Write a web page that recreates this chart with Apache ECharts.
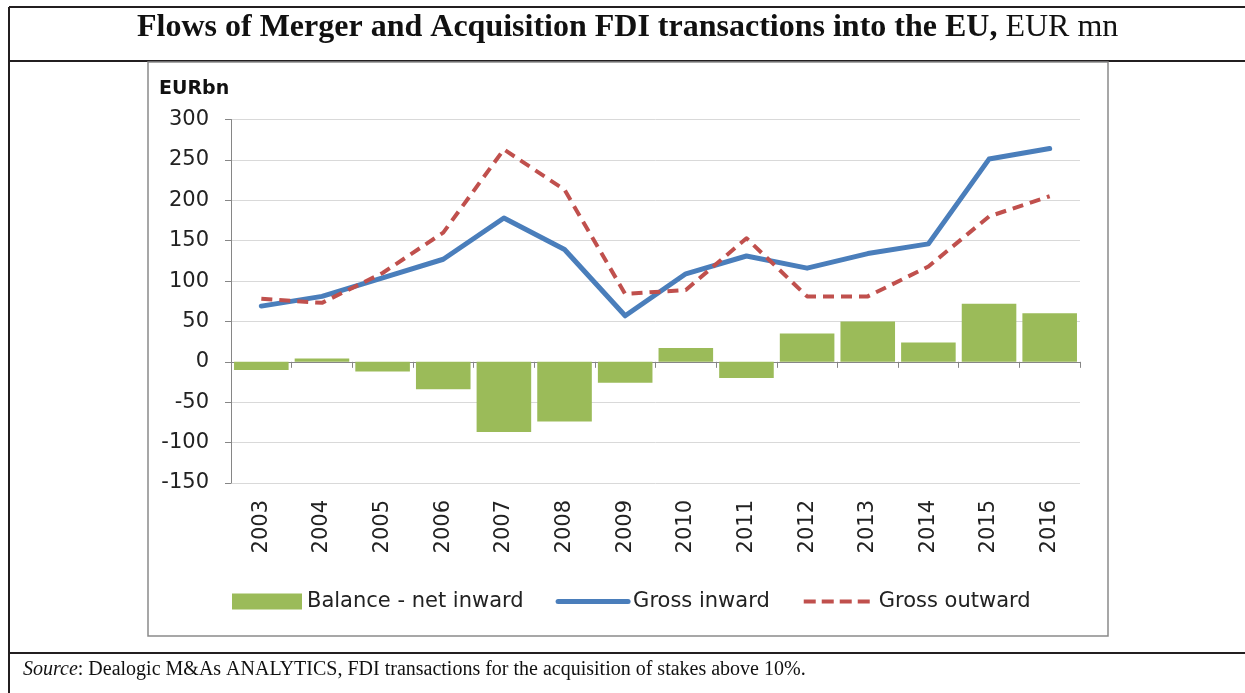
<!DOCTYPE html>
<html>
<head>
<meta charset="utf-8">
<script src="https://cdn.jsdelivr.net/npm/echarts@6/dist/echarts.min.js"></script>
<style>
html,body{margin:0;padding:0;background:#fff;}
#c{width:1245px;height:693px;}
</style>
</head>
<body>
<div id="c"></div>
<script>
const years = ['2003','2004','2005','2006','2007','2008','2009','2010','2011','2012','2013','2014','2015','2016'];
const balance = [-10, 4, -12, -34, -87, -74, -26, 17, -20, 35, 50, 24, 72, 60];
const grossInward = [69, 81, 104, 127, 178, 139, 57, 109, 131, 116, 134, 146, 251, 264];
const grossOutward = [78, 73, 110, 160, 263, 213, 84, 89, 153, 81, 81, 118, 180, 205];
const yTicks = {min: -150, max: 300, interval: 50};

const chart = echarts.init(document.getElementById('c'), null, {renderer: 'canvas'});
const F = '"DejaVu Sans", sans-serif';
const SERIF = '"Liberation Serif", "Times New Roman", serif';
const blue = '#4a7ebb', red = '#c0504d', green = '#9bbb59';
const option = {
  backgroundColor: '#fff',
  animation: false,
  title: [
    {
      text: '{b|Flows of Merger and Acquisition FDI transactions into the EU,}{n| EUR mn}',
      left: 137, top: 8, padding: 0,
      textStyle: {rich: {
        b: {fontFamily: SERIF, fontWeight: 'bold', fontSize: 32, lineHeight: 40, color: '#111'},
        n: {fontFamily: SERIF, fontWeight: 'normal', fontSize: 32, lineHeight: 40, color: '#111'}
      }}
    },
    {
      text: '{i|Source}{r|: Dealogic M&As ANALYTICS, FDI transactions for the acquisition of stakes above 10%.}',
      left: 23, top: 657, padding: 0,
      textStyle: {fontWeight: 'normal', rich: {
        i: {fontFamily: SERIF, fontStyle: 'italic', fontWeight: 'normal', fontSize: 20, lineHeight: 26, color: '#111'},
        r: {fontFamily: SERIF, fontWeight: 'normal', fontSize: 20, lineHeight: 26, color: '#111'}
      }}
    },
    {
      text: 'EURbn', left: 159, top: 80, padding: 0,
      textStyle: {fontFamily: F, fontWeight: 'bold', fontSize: 19, color: '#111'}
    }
  ],
  graphic: [
    {type: 'line', shape: {x1: 9, y1: 7, x2: 1245, y2: 7}, style: {stroke: '#231f20', lineWidth: 2}},
    {type: 'line', shape: {x1: 9, y1: 7, x2: 9, y2: 693}, style: {stroke: '#231f20', lineWidth: 2}},
    {type: 'line', shape: {x1: 9, y1: 61, x2: 1245, y2: 61}, style: {stroke: '#231f20', lineWidth: 2}},
    {type: 'line', shape: {x1: 9, y1: 653, x2: 1245, y2: 653}, style: {stroke: '#231f20', lineWidth: 2}},
    {type: 'rect', shape: {x: 148, y: 62, width: 960, height: 574}, style: {fill: 'none', stroke: '#8a8a8a', lineWidth: 1.5}}
  ],
  legend: {
    left: 227, top: 586,
    itemWidth: 70, itemHeight: 16, itemGap: 32,
    textStyle: {fontFamily: F, fontSize: 21, color: '#222'},
    data: [
      {name: 'Balance - net inward', icon: 'rect'},
      {name: 'Gross inward', itemStyle: {opacity: 0}, lineStyle: {width: 5, color: blue}},
      {name: 'Gross outward', itemStyle: {opacity: 0}, lineStyle: {width: 4, color: red, type: [12, 6]}}
    ]
  },
  grid: {left: 231, right: 165, top: 119.5, bottom: 210, containLabel: false},
  xAxis: [
    {
      type: 'category', data: years, position: 'top',
      axisLine: {onZero: true, lineStyle: {color: '#868686', width: 1}},
      axisTick: {show: true, inside: true, length: 6, lineStyle: {color: '#868686'}},
      axisLabel: {show: false}, splitLine: {show: false}
    },
    {
      type: 'category', data: years, position: 'bottom',
      axisLine: {show: false, onZero: false}, axisTick: {show: false},
      axisLabel: {rotate: 90, margin: 17, fontFamily: F, fontSize: 21, color: '#222'},
      splitLine: {show: false}
    }
  ],
  yAxis: {
    type: 'value', min: yTicks.min, max: yTicks.max, interval: yTicks.interval,
    axisLine: {show: true, lineStyle: {color: '#868686', width: 1}},
    axisTick: {show: true, length: 6, lineStyle: {color: '#868686'}},
    axisLabel: {margin: 22, fontFamily: F, fontSize: 21, color: '#222'},
    splitLine: {lineStyle: {color: '#d9d9d9', width: 1}}
  },
  series: [
    {
      name: 'Balance - net inward', type: 'bar', data: balance, xAxisIndex: 0,
      barCategoryGap: '10%', itemStyle: {color: green}
    },
    {
      name: 'Gross inward', type: 'line', data: grossInward, xAxisIndex: 0,
      symbol: 'none', lineStyle: {color: blue, width: 5, cap: 'round', join: 'round'},
      itemStyle: {color: blue}
    },
    {
      name: 'Gross outward', type: 'line', data: grossOutward, xAxisIndex: 0,
      symbol: 'none', lineStyle: {color: red, width: 4, type: [11, 7], join: 'round'},
      itemStyle: {color: red}
    }
  ]
};
chart.setOption(option);
</script>
</body>
</html>
